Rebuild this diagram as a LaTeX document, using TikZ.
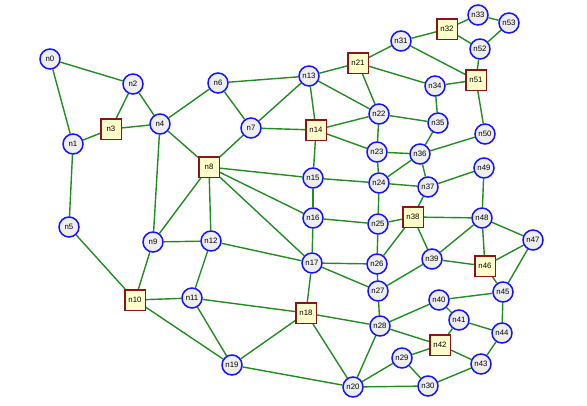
\documentclass[tikz,border=0pt]{standalone}
\usepackage{fontspec}
\setmainfont{Liberation Sans}
\usetikzlibrary{backgrounds}
\definecolor{edgegreen}{RGB}{34,139,34}
\definecolor{cblue}{RGB}{20,20,255}
\definecolor{cfill}{RGB}{238,238,238}
\definecolor{sred}{RGB}{139,20,20}
\definecolor{sfill}{RGB}{255,255,204}
\tikzset{
  cnode/.style={circle,draw=cblue,fill=cfill,line width=1.5pt,minimum size=20pt,inner sep=0pt,font=\fontsize{7.8}{8}\selectfont},
  snode/.style={rectangle,draw=sred,fill=sfill,line width=1.5pt,minimum size=20.5pt,inner sep=0pt,font=\fontsize{7.8}{8}\selectfont},
  edge/.style={draw=edgegreen,line width=1.4pt}
}
\begin{document}
\begin{tikzpicture}[x=1pt,y=-1pt]
\useasboundingbox (0,0) rectangle (587,405);
\node[cnode] (n0) at (50,59) {n0};
\node[cnode] (n1) at (73,144) {n1};
\node[cnode] (n2) at (133,84) {n2};
\node[snode] (n3) at (111,129) {n3};
\node[cnode] (n4) at (160,124) {n4};
\node[cnode] (n5) at (69,227) {n5};
\node[cnode] (n6) at (218,83) {n6};
\node[cnode] (n7) at (251,128) {n7};
\node[snode] (n8) at (209,167) {n8};
\node[cnode] (n9) at (153,242) {n9};
\node[snode] (n10) at (135,300) {n10};
\node[cnode] (n11) at (192,298) {n11};
\node[cnode] (n12) at (211,241) {n12};
\node[cnode] (n13) at (309,76) {n13};
\node[snode] (n14) at (316,130) {n14};
\node[cnode] (n15) at (313,178) {n15};
\node[cnode] (n16) at (313,218) {n16};
\node[cnode] (n17) at (312,263) {n17};
\node[snode] (n18) at (306,313) {n18};
\node[cnode] (n19) at (232,365) {n19};
\node[cnode] (n20) at (353,387) {n20};
\node[snode] (n21) at (358,63) {n21};
\node[cnode] (n22) at (379,114) {n22};
\node[cnode] (n23) at (377,152) {n23};
\node[cnode] (n24) at (379,183) {n24};
\node[cnode] (n25) at (378,224) {n25};
\node[cnode] (n26) at (377,264) {n26};
\node[cnode] (n27) at (378,291) {n27};
\node[cnode] (n28) at (380,326) {n28};
\node[cnode] (n29) at (402,358) {n29};
\node[cnode] (n30) at (428,386) {n30};
\node[cnode] (n31) at (401,41) {n31};
\node[snode] (n32) at (447,29) {n32};
\node[cnode] (n33) at (478,15) {n33};
\node[cnode] (n34) at (435,86) {n34};
\node[cnode] (n35) at (438,123) {n35};
\node[cnode] (n36) at (420,154) {n36};
\node[cnode] (n37) at (428,187) {n37};
\node[snode] (n38) at (413,217) {n38};
\node[cnode] (n39) at (432,259) {n39};
\node[cnode] (n40) at (439,300) {n40};
\node[cnode] (n41) at (459,320) {n41};
\node[snode] (n42) at (440,345) {n42};
\node[cnode] (n43) at (481,364) {n43};
\node[cnode] (n44) at (502,333) {n44};
\node[cnode] (n45) at (503,292) {n45};
\node[snode] (n46) at (485,266) {n46};
\node[cnode] (n47) at (533,240) {n47};
\node[cnode] (n48) at (482,218) {n48};
\node[cnode] (n49) at (484,168) {n49};
\node[cnode] (n50) at (485,134) {n50};
\node[snode] (n51) at (476,80) {n51};
\node[cnode] (n52) at (480,49) {n52};
\node[cnode] (n53) at (509,23) {n53};
\begin{scope}[on background layer]
\foreach \a/\b in {n0/n2,n0/n1,n1/n3,n3/n2,n3/n4,n2/n4,n1/n5,n4/n6,n4/n8,n4/n9,
n6/n13,n6/n7,n7/n13,n7/n14,n7/n8,n13/n14,n13/n21,n13/n22,n14/n22,n14/n23,n14/n15,
n21/n22,n21/n31,n21/n34,n31/n32,n31/n51,n32/n33,n32/n52,n33/n53,n53/n52,n52/n51,
n34/n51,n34/n35,n51/n50,n22/n35,n22/n23,n23/n36,n35/n36,n36/n50,n36/n24,n36/n37,
n23/n24,n24/n37,n37/n49,n37/n38,n15/n24,n8/n15,n8/n16,n8/n17,n8/n12,n8/n9,
n15/n16,n16/n17,n16/n25,n24/n25,n25/n38,n25/n26,n38/n26,n38/n48,n38/n39,
n49/n48,n48/n39,n48/n46,n48/n47,n39/n46,n39/n27,n46/n47,n46/n45,n47/n45,
n45/n40,n45/n44,n40/n41,n40/n28,n41/n42,n41/n44,n44/n43,n42/n28,n42/n43,n42/n29,
n43/n30,n29/n30,n29/n20,n30/n20,n28/n20,n26/n27,n26/n17,n17/n27,n27/n28,
n17/n12,n17/n18,n18/n28,n18/n11,n18/n19,n18/n20,n19/n20,n19/n11,n19/n10,
n10/n5,n10/n9,n10/n11,n11/n12,n9/n12}
  \draw[edge] (\a) -- (\b);
\end{scope}
\end{tikzpicture}
\end{document}
